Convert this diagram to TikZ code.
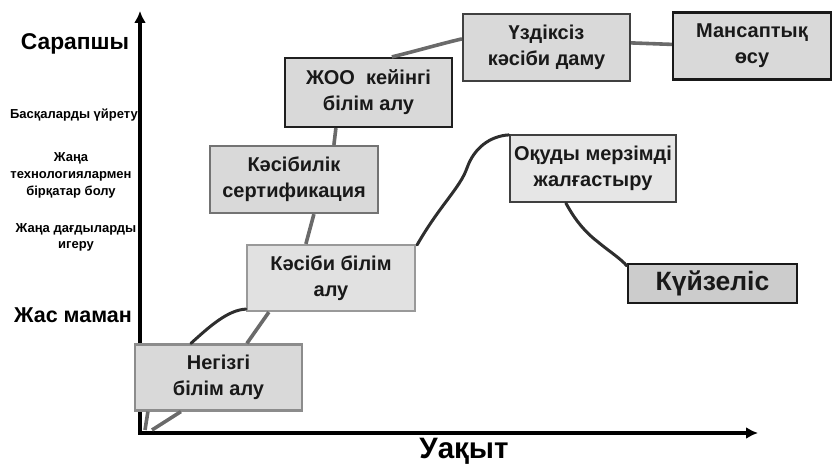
\documentclass[tikz,border=0pt]{standalone}
\usepackage{fontspec}
\setmainfont{Liberation Sans}
\usetikzlibrary{arrows.meta,calc}
\definecolor{boxfill}{HTML}{D9D9D9}
\definecolor{boxfillL}{HTML}{E6E6E6}
\definecolor{boxfillD}{HTML}{CCCCCC}
\definecolor{linkgray}{HTML}{6A6A6A}
\definecolor{linkdark}{HTML}{2E2E2E}
\begin{document}
\begin{tikzpicture}[x=1pt,y=-1pt,
  stagebox/.style={draw, line width=2.2pt, fill=boxfill, inner sep=0pt, align=center,
    font=\bfseries\fontsize{20}{26}\selectfont, text=black!90},
  axislabel/.style={font=\bfseries\fontsize{22}{25}\selectfont, align=center},
  smalllabel/.style={font=\bfseries\fontsize{13}{17}\selectfont, align=center},
  graylink/.style={draw=linkgray, line width=3.6pt},
  darklink/.style={draw=linkdark, line width=3pt, line cap=round},
  axisline/.style={line width=3.5pt, -{Latex[length=12pt,width=12pt]}}]
\useasboundingbox (0,0) rectangle (833,465);
% axes
\coordinate (orig) at (140,433);
\coordinate (ytop) at (140,11);
\coordinate (xend) at (758,433);
\draw[axisline] ($(orig)+(-1.75,0)$) -- (xend);
\draw[axisline] ($(orig)+(0,1.75)$) -- (ytop);
% boxes
\node[stagebox, draw=black!45, minimum width=167pt, minimum height=66pt] (n1) at (218.5,377.5) {Негізгі\\білім алу};
\node[stagebox, draw=black!40, fill=boxfill!80!white, minimum width=168pt, minimum height=66pt] (n2) at (331,278) {Кәсіби білім\\алу};
\node[stagebox, draw=black!55, minimum width=168pt, minimum height=67pt] (n3) at (294,179.5) {Кәсібилік\\сертификация};
\node[stagebox, draw=black!88, minimum width=167pt, minimum height=69pt] (n4) at (368.5,92.5) {ЖОО\ \ кейінгі\\білім алу};
\node[stagebox, draw=black!75, minimum width=167pt, minimum height=67pt] (n5) at (546.5,47.5) {Үздіксіз\\кәсіби даму};
\node[stagebox, draw=black!90, minimum width=158pt, minimum height=67pt] (n6) at (752,46) {Мансаптық\\өсу};
\node[stagebox, draw=black!75, fill=boxfillL, minimum width=166pt, minimum height=67pt] (n7) at (593,168.5) {Оқуды мерзімді\\жалғастыру};
\node[stagebox, draw=black!90, fill=boxfillD, minimum width=169pt, minimum height=39pt, font=\bfseries\fontsize{26.5}{30}\selectfont] (n8) at (712.5,283.5) {Күйзеліс};
% axis labels
\node[axislabel, font=\bfseries\fontsize{22.8}{25}\selectfont] (lexp) at (75,44) {Сарапшы};
\node[smalllabel] (lteach) at (74,115) {Басқаларды үйрету};
\node[smalllabel] (ltech) at (71,175) {Жаңа\\технологиялармен\\бірқатар болу};
\node[smalllabel, font=\bfseries\fontsize{13}{15.5}\selectfont] (lskill) at (76,237.5) {Жаңа дағдыларды\\игеру};
\node[axislabel, font=\bfseries\fontsize{21.5}{25}\selectfont] (lyoung) at (73,315) {Жас маман};
\node[font=\bfseries\fontsize{29.5}{32}\selectfont] (ltime) at (464,451) {Уақыт};
% connectors from origin
\coordinate (o1) at (145,430);
\coordinate (o2) at (152,430);
\draw[graylink] (o1) -- ($(n1.south west)+(14,0)$);
\draw[graylink] (o2) -- ($(n1.south west)+(47,0)$);
% gray path
\draw[graylink] ($(n1.north west)+(113,0)$) -- ($(n2.south west)+(23,0)$);
\draw[graylink] ($(n2.north west)+(60,0)$) -- ($(n3.south west)+(105,0)$);
\draw[graylink] ($(n3.north west)+(125,0)$) -- ($(n4.south west)+(52,0)$);
\draw[graylink] ($(n4.north west)+(108,0)$) .. controls (420,50) and (440,44) .. ($(n5.north west)+(0,26)$);
\draw[graylink] ($(n5.north east)+(0,30)$) -- ($(n6.north west)+(0,33)$);
% dark path
\draw[darklink] ($(n1.north west)+(57,0)$) .. controls (210,326) and (228,310) .. ($(n2.south west)+(0,-3)$);
\draw[darklink] ($(n2.north east)+(1,1)$) .. controls (440,205) and (460,188) .. (467,168)
  .. controls (474,148) and (490,136) .. ($(n7.north west)+(0,1)$);
\draw[darklink] ($(n7.south west)+(57,0)$) .. controls (575,220) and (585,232) .. (598,242)
  .. controls (610,252) and (620,258) .. ($(n8.north west)+(0,3)$);
\end{tikzpicture}
\end{document}
